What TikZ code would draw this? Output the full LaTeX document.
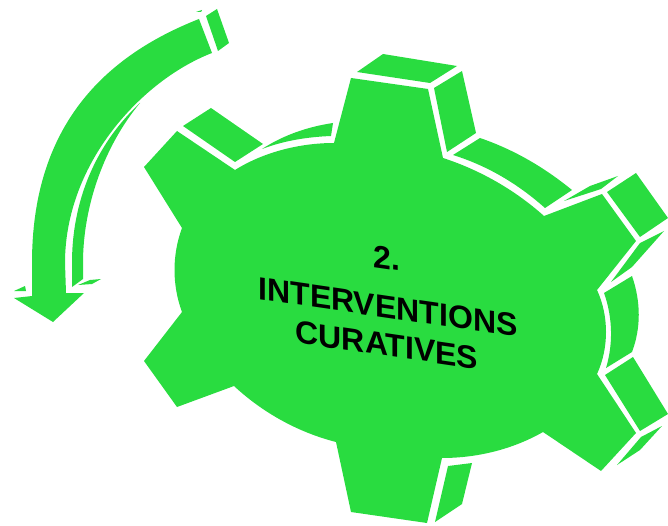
\documentclass[tikz,border=0pt]{standalone}
\usepackage{fontspec}
\setmainfont{Liberation Sans}
\definecolor{gearg}{RGB}{41,220,64}
\tikzset{part/.style={fill=gearg,draw=none},
 lbl/.style={font=\bfseries\fontsize{32}{32}\selectfont,text=black,inner sep=0pt,anchor=center,transform shape}}
\begin{document}
\begin{tikzpicture}[x=1pt,y=-1pt]
\useasboundingbox (0,0) rectangle (668,526);
% front face of the gear
\fill[part] (144,167) -- (177,131) -- (235,170)
 .. controls (262,153) and (298,143) .. (334,143) -- (351,78) -- (428,89) -- (443,158)
 .. controls (480,170) and (515,190) .. (544,216) -- (602,194) -- (636,241) -- (597,290)
 .. controls (609,316) and (609,348) .. (597,374) -- (636,433) -- (601,471) -- (543,432)
 .. controls (515,448) and (480,458) .. (442,458) -- (427,523) -- (351,512) -- (336,442)
 .. controls (297,432) and (262,412) .. (234,386) -- (177,407) -- (144,361) -- (182,312)
 .. controls (172,285) and (172,255) .. (182,228) -- cycle;
% side faces
\fill[part] (183,126) -- (211,108) -- (263,144) -- (235,162) -- cycle;
\fill[part] (262,149) .. controls (282,136) and (306,127) .. (333,123) -- (331,136)
 .. controls (306,137) and (283,141) .. cycle;
\fill[part] (357,72) -- (383,54) -- (457,66) -- (430,83) -- cycle;
\fill[part] (434,88) -- (462,71) -- (476,133) -- (447,152) -- cycle;
\fill[part] (453,155) -- (480,138) .. controls (515,150) and (545,168) .. (572,190)
 -- (545,208) .. controls (518,184) and (488,166) .. cycle;
\fill[part] (564,201) -- (590,186) -- (618,176) -- (601,189) -- cycle;
\fill[part] (607,192) -- (636,173) -- (668,218) -- (640,237) -- cycle;
\fill[part] (640,243) -- (664,231) -- (632,267) -- (611,282) -- cycle;
\fill[part] (604,293) -- (632,276) .. controls (641,302) and (641,328) .. (632,352)
 -- (606,368) .. controls (613,345) and (613,318) .. cycle;
\fill[part] (605,375) -- (633,357) -- (668,414) -- (640,431) -- cycle;
\fill[part] (641,437) -- (662,426) -- (640,450) -- (617,465) -- cycle;
\fill[part] (448,466) -- (472,463) -- (462,504) -- (435,522) -- cycle;
% arrow
\fill[part] (199,19) -- (212,53) .. controls (142,80) and (65,163) .. (65,263) -- (66,293)
 -- (84,293) -- (53,322) -- (14,298) -- (32,296) -- (32,263)
 .. controls (32,133) and (97,59) .. cycle;
\fill[part] (206,16) -- (217,9) -- (229,43) -- (218,51) -- cycle;
\fill[part] (140,103) .. controls (100,140) and (72,195) .. (72,263) -- (72,287) -- (83,279) -- (83,263)
 .. controls (83,205) and (105,145) .. cycle;
\fill[part] (78,285) -- (90,280) -- (101,279) -- (92,284) -- cycle;
\fill[part] (14,291) -- (25,286) -- (26,291) -- cycle;
\fill[part] (196,12) -- (202,10) -- (201,12) -- cycle;
% text
\begin{scope}[shift={(387,258)},cm={1,-0.146,0,1,(0,0)}]
\node[lbl] (num) at (0,0) {2.};
\end{scope}
\begin{scope}[shift={(388,307)},cm={1,-0.146,0,1,(0,0)}]
\node[lbl] (l1) at (0,0) {INTERVENTIONS};
\end{scope}
\begin{scope}[shift={(387,345)},cm={1,-0.146,0,1,(0,0)}]
\node[lbl] (l2) at (0,0) {CURATIVES};
\end{scope}
\end{tikzpicture}
\end{document}
